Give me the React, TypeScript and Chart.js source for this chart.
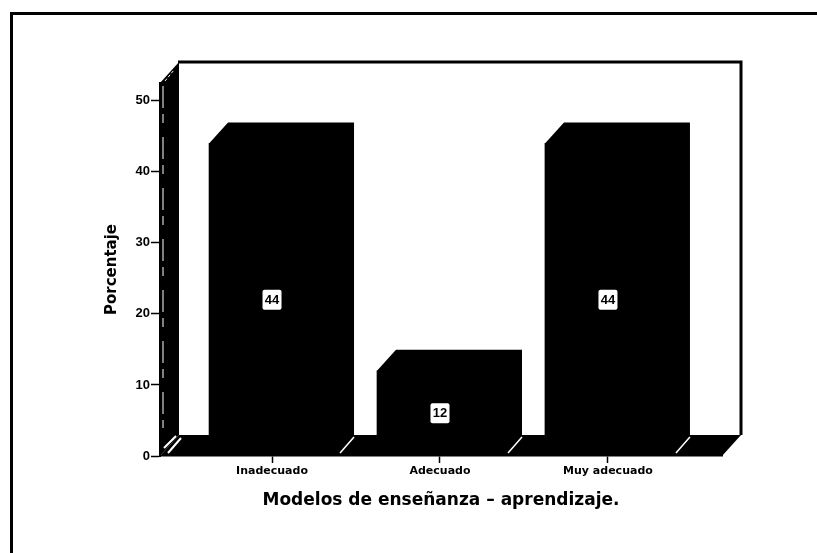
import React, { useEffect, useRef } from "react";
import { Chart, registerables } from "chart.js";

Chart.register(...registerables);

const categories = ["Inadecuado", "Adecuado", "Muy adecuado"];
const porcentajes = [44, 12, 44];
const yTicks = [0, 10, 20, 30, 40, 50];
const xTitle = "Modelos de enseñanza – aprendizaje.";
const yTitle = "Porcentaje";

const DX = 19;
const DY = 21;
const INK = "#000000";

const scene3d = {
  id: "scene3d",
  beforeDraw(chart: any) {
    const { ctx, width, height } = chart;
    ctx.save();
    ctx.fillStyle = "#ffffff";
    ctx.fillRect(0, 0, width, height);
    ctx.fillStyle = INK;
    ctx.fillRect(10, 12, 3, height - 12);
    ctx.fillRect(10, 12, width - 10, 3);
    ctx.restore();
  },
  beforeDatasetsDraw(chart: any) {
    const { ctx, chartArea: a } = chart;
    ctx.save();
    ctx.fillStyle = INK;
    // left wall
    ctx.beginPath();
    ctx.moveTo(a.left, a.top);
    ctx.lineTo(a.left + DX, a.top - DY);
    ctx.lineTo(a.left + DX, a.bottom - DY);
    ctx.lineTo(a.left, a.bottom);
    ctx.closePath();
    ctx.fill();
    // floor
    ctx.beginPath();
    ctx.moveTo(a.left, a.bottom);
    ctx.lineTo(a.left + DX, a.bottom - DY);
    ctx.lineTo(a.right + DX, a.bottom - DY);
    ctx.lineTo(a.right, a.bottom);
    ctx.closePath();
    ctx.fill();
    // back wall outline
    ctx.strokeStyle = INK;
    ctx.lineWidth = 3;
    ctx.beginPath();
    ctx.moveTo(a.left + DX - 1, a.top - DY);
    ctx.lineTo(a.right + DX, a.top - DY);
    ctx.lineTo(a.right + DX, a.bottom - DY);
    ctx.stroke();
    // light edges on the left wall
    ctx.strokeStyle = "#ffffff";
    ctx.lineWidth = 1;
    ctx.setLineDash([22, 6, 9, 14]);
    ctx.beginPath();
    ctx.moveTo(a.left + 3, a.top + 3);
    ctx.lineTo(a.left + 3, a.bottom - 28);
    ctx.stroke();
    ctx.setLineDash([3, 2]);
    ctx.beginPath();
    ctx.moveTo(a.left + 5, a.top - 2);
    ctx.lineTo(a.left + 14, a.top - 13);
    ctx.stroke();
    ctx.setLineDash([]);
    ctx.lineWidth = 2;
    ctx.beginPath();
    ctx.moveTo(a.left + 4, a.bottom - 8);
    ctx.lineTo(a.left + 16, a.bottom - 20);
    ctx.moveTo(a.left + 8, a.bottom - 3);
    ctx.lineTo(a.left + 21, a.bottom - 18);
    ctx.stroke();
    ctx.restore();
  },
  afterDatasetsDraw(chart: any) {
    const { ctx, chartArea: a } = chart;
    const bars = chart.getDatasetMeta(0).data;
    ctx.save();
    bars.forEach((bar: any, i: number) => {
      const left = bar.x - bar.width / 2;
      const right = bar.x + bar.width / 2;
      // side and top faces, overlapping the front face so no seam shows
      ctx.fillStyle = INK;
      ctx.beginPath();
      ctx.moveTo(left, bar.y + 2);
      ctx.lineTo(left, bar.y);
      ctx.lineTo(left + DX, bar.y - DY);
      ctx.lineTo(right + DX, bar.y - DY);
      ctx.lineTo(right + DX, a.bottom - DY);
      ctx.lineTo(right, a.bottom);
      ctx.lineTo(right - 2, a.bottom);
      ctx.lineTo(right - 2, bar.y + 2);
      ctx.closePath();
      ctx.fill();
      // floor highlight
      ctx.strokeStyle = "#ffffff";
      ctx.lineWidth = 1.5;
      ctx.beginPath();
      ctx.moveTo(right + 5, a.bottom - 3);
      ctx.lineTo(right + DX, a.bottom - DY + 2);
      ctx.stroke();
      // value label
      const cy = (bar.y + a.bottom) / 2;
      ctx.fillStyle = "#ffffff";
      ctx.beginPath();
      ctx.roundRect(bar.x - 9.5, cy - 10, 19, 20, 2);
      ctx.fill();
      ctx.fillStyle = INK;
      ctx.font = "bold 13px 'Liberation Sans'";
      ctx.textAlign = "center";
      ctx.textBaseline = "middle";
      ctx.fillText(String(porcentajes[i]), bar.x, cy + 0.5);
    });
    ctx.restore();
  },
};

export default function App() {
  const ref = useRef<HTMLCanvasElement>(null);
  useEffect(() => {
    const chart = new Chart(ref.current as HTMLCanvasElement, {
      type: "bar",
      data: {
        datasets: [
          {
            data: categories.map((_, i) => ({ x: i, y: porcentajes[i] })),
            backgroundColor: INK,
            borderWidth: 0,
            barThickness: 126,
          },
        ],
      },
      options: {
        animation: false,
        responsive: false,
        layout: { padding: { left: 0, top: 83, right: 95, bottom: 0 } },
        plugins: { legend: { display: false }, tooltip: { enabled: false } },
        scales: {
          x: {
            type: "linear",
            offset: false,
            min: -0.667,
            max: 2.679,
            afterBuildTicks: (s: any) => {
              s.ticks = categories.map((_, i) => ({ value: i }));
            },
            afterFit: (s: any) => {
              s.height = 97;
            },
            grid: {
              offset: false,
              drawOnChartArea: false,
              drawTicks: true,
              tickLength: 7,
              tickWidth: 1.5,
              color: INK,
            },
            border: { display: true, color: INK, width: 1.5 },
            ticks: {
              color: INK,
              autoSkip: false,
              maxRotation: 0,
              padding: 2,
              font: { family: "'DejaVu Sans'", size: 11, weight: "bold" },
              callback: (v: any) => categories[v as number],
            },
            title: {
              display: true,
              text: xTitle,
              color: INK,
              font: { family: "'DejaVu Sans'", size: 17, weight: "bold" },
              padding: { top: 0, bottom: 42 },
            },
          },
          y: {
            min: 0,
            max: 52.5,
            afterBuildTicks: (s: any) => {
              s.ticks = yTicks.map((value) => ({ value }));
            },
            afterFit: (s: any) => {
              s.width = 160;
            },
            grid: {
              drawOnChartArea: false,
              drawTicks: true,
              tickLength: 9,
              tickWidth: 1.5,
              color: INK,
            },
            border: { display: true, color: INK, width: 2 },
            ticks: {
              color: INK,
              padding: 1,
              font: { family: "'Liberation Sans'", size: 13, weight: "bold" },
            },
            title: {
              display: true,
              text: yTitle,
              color: INK,
              font: { family: "'DejaVu Sans'", size: 15, weight: "bold" },
              padding: { top: 103, bottom: 0 },
            },
          },
        },
      },
      plugins: [scene3d],
    } as any);
    return () => chart.destroy();
  }, []);
  return (
    <div style={{ position: "fixed", left: 0, top: 0, width: 817, height: 553, background: "#fff" }}>
      <canvas ref={ref} width={817} height={553} style={{ display: "block" }} />
    </div>
  );
}
